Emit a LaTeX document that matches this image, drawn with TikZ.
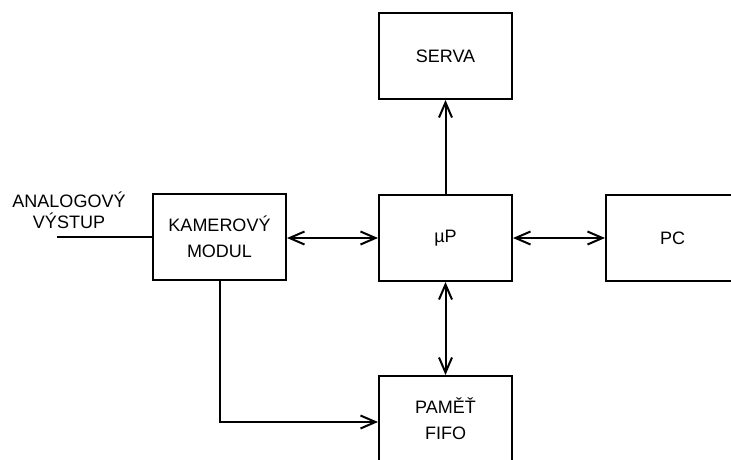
\documentclass[tikz,border=0pt]{standalone}
\usepackage{fontspec}
\setmainfont{Liberation Sans}
\usetikzlibrary{arrows.meta}
\usetikzlibrary{positioning}

\begin{document}
\begin{tikzpicture}[x=1pt, y=-1pt, line width=2pt,
			internal/.style={draw, rectangle, minimum width=133pt, minimum height=86pt, inner sep=4pt, font=\fontsize{18}{26}\selectfont},
			every text node part/.style={align=center}]
			\useasboundingbox (0,0) rectangle (731,459);
			\clip (0,0) rectangle (731,459);
			
			\node[align=center, font=\fontsize{18}{21}\selectfont](node0) at (69, 210) {ANALOGOVÝ \\ VÝSTUP};
			\coordinate (in) at (57, 236.5);
			
			\node[internal, align=center](node1) at (219.5, 236.5) {KAMEROVÝ \\ MODUL};
			\draw (in) -- (node1.west);
			
			\node[internal, align=center](node2) at (445.5, 56) {SERVA};
			
			\node[internal, align=center](node3) at (445.5, 238) {µP};
			\draw[->,>={Straight Barb[length=15pt, width=13pt]}] (node3.north) -- (node2.south);
			\draw[<->,>={Straight Barb[length=15pt, width=13pt]}] (node1.east |- node3.west) -- (node3.west);
			
			\node[internal, align=center](node4) at (672.5, 238) {PC};
			\draw[<->,>={Straight Barb[length=15pt, width=13pt]}] (node3.east) -- (node4.west);
			
			\node[internal, align=center](node5) at (445.5, 419) {PAMĚŤ \\ FIFO};
			\draw[<->,>={Straight Barb[length=15pt, width=13pt]}] (node3.south) -- (node5.north);
			
			\draw[->,>={Straight Barb[length=15pt, width=13pt]}] (node1.south) |- ([yshift=-3pt]node5.west);
			\end{tikzpicture}
\end{document}
